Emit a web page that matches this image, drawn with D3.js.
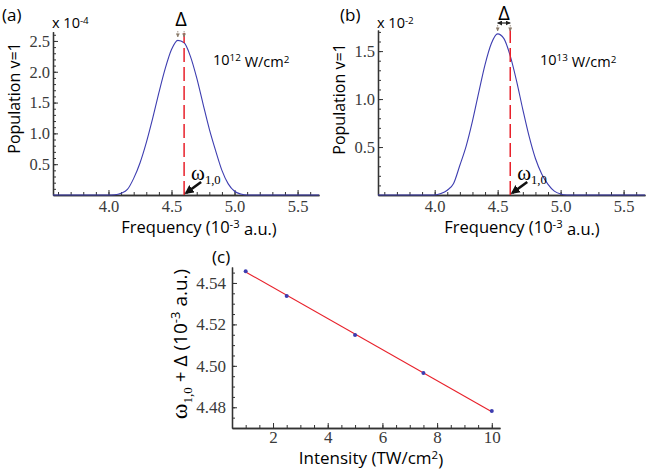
<!DOCTYPE html>
<html lang="en">
<head>
<meta charset="UTF-8">
<title>Population v=1 spectra and frequency shift</title>
<script src="https://d3js.org/d3.v7.min.js"></script>
<style>
  body { margin: 0; background: #fff; }
  svg { font-family: "Open Sans", sans-serif; }
  .domain, .tick line { stroke: #333; }
  .domain { stroke-width: 1.3px; }
  .tick text { font-family: "Liberation Serif", "DejaVu Serif", serif !important; fill: #3a3a3a; }
  .serif { font-family: "Liberation Serif", "DejaVu Serif", serif; }
</style>
</head>
<body>
<svg id="chart" width="647" height="474"></svg>
<script>
// panel (a): 10^12 W/cm2, population in units of 1e-4
var freqA = [3.56, 4.0, 4.05, 4.1, 4.15, 4.2, 4.25, 4.3, 4.35, 4.4, 4.45, 4.5, 4.55, 4.6, 4.65, 4.7, 4.75, 4.8, 4.85, 4.9, 4.95, 5.0, 5.05, 5.1, 5.67];
var popA  = [0, 0, 0.005, 0.03, 0.09, 0.27, 0.52, 0.85, 1.24, 1.66, 2.05, 2.36, 2.51, 2.47, 2.25, 1.90, 1.48, 1.07, 0.72, 0.40, 0.18, 0.06, 0.015, 0, 0];

// panel (b): 10^13 W/cm2, population in units of 1e-2
var freqB = [3.55, 4.0, 4.05, 4.1, 4.15, 4.2, 4.25, 4.3, 4.35, 4.4, 4.45, 4.5, 4.55, 4.6, 4.65, 4.7, 4.75, 4.8, 4.85, 4.9, 4.95, 5.0, 5.05, 5.67];
var popB  = [0, 0, 0.015, 0.05, 0.12, 0.31, 0.51, 0.77, 1.07, 1.36, 1.58, 1.68, 1.63, 1.45, 1.19, 0.89, 0.61, 0.38, 0.22, 0.11, 0.04, 0.01, 0, 0];

var omega10 = 4.6;   // omega_{1,0}, 10^-3 a.u.

// panel (c): shifted frequency vs intensity
var intensity = [1, 2.5, 5, 7.5, 10];
var shifted   = [4.5457, 4.5337, 4.5149, 4.4966, 4.4782];
var fitI = [1, 10];
var fitW = [4.5453, 4.4778];

var freqTicks = [4.0, 4.5, 5.0, 5.5];
var popTicksA = [0.5, 1.0, 1.5, 2.0, 2.5];
var popTicksB = [0.5, 1.0, 1.5];
var intTicks = [2, 4, 6, 8, 10];
var shiftTicks = [4.48, 4.50, 4.52, 4.54];

var blue = "#3d3db0", red = "#e8202a";
var svg = d3.select("#chart");

var defs = svg.append("defs");
defs.append("marker").attr("id", "head").attr("viewBox", "0 0 10 10")
    .attr("refX", 8).attr("refY", 5).attr("markerWidth", 9).attr("markerHeight", 9)
    .attr("markerUnits", "userSpaceOnUse").attr("orient", "auto")
    .append("path").attr("d", "M0,0L10,5L0,10z").attr("fill", "#111");
defs.append("marker").attr("id", "small").attr("viewBox", "0 0 10 10")
    .attr("refX", 9).attr("refY", 5).attr("markerWidth", 5).attr("markerHeight", 5)
    .attr("markerUnits", "userSpaceOnUse").attr("orient", "auto-start-reverse")
    .append("path").attr("d", "M0,0L10,5L0,10z").attr("fill", "#222");
defs.append("marker").attr("id", "tiny").attr("viewBox", "0 0 10 10")
    .attr("refX", 9).attr("refY", 5).attr("markerWidth", 4).attr("markerHeight", 4)
    .attr("markerUnits", "userSpaceOnUse").attr("orient", "auto")
    .append("path").attr("d", "M0,0L10,5L0,10z").attr("fill", "#8a7b6a");

function drawAxes(g, x, y, o) {
    var y0 = y.range()[0], x0 = x.range()[0];
    g.append("g").attr("transform", `translate(0,${y0})`)
        .call(d3.axisBottom(x).tickValues(o.xMinor).tickSize(-3).tickSizeOuter(0).tickFormat(""));
    g.append("g").attr("transform", `translate(0,${y0})`)
        .call(d3.axisBottom(x).tickValues(o.xMajor).tickSize(-5).tickSizeOuter(0)
            .tickPadding(o.xPad).tickFormat(o.xFmt))
        .attr("font-size", o.fs);
    g.append("g").attr("transform", `translate(${x0},0)`)
        .call(d3.axisLeft(y).tickValues(o.yMinor).tickSize(-3).tickSizeOuter(0).tickFormat(""));
    g.append("g").attr("transform", `translate(${x0},0)`)
        .call(d3.axisLeft(y).tickValues(o.yMajor).tickSize(-5).tickSizeOuter(0)
            .tickPadding(o.yPad).tickFormat(o.yFmt))
        .attr("font-size", o.fs);
    g.selectAll(".tick line").attr("stroke-width", 1);
}

function supText(sel, parts) {
    parts.forEach(function(p) {
        var t = sel.append("tspan").text(p[0]);
        if (p[1] === "sup") t.attr("font-size", "0.68em").attr("dy", "-0.45em");
        if (p[1] === "sub") t.attr("font-size", "0.6em").attr("dy", "0.35em");
        if (p[1] === "back") t.attr("dy", "0.45em");
    });
}

function spectrum(cfg) {
    var g = svg.append("g");
    var x = d3.scaleLinear().domain(cfg.xDom).range(cfg.xRange);
    var y = d3.scaleLinear().domain(cfg.yDom).range(cfg.yRange);
    drawAxes(g, x, y, {
        xMajor: freqTicks, xMinor: d3.range(36, 57).map(d => d / 10), xFmt: d3.format(".1f"), xPad: 5,
        yMajor: cfg.yTicks, yMinor: d3.range(1, cfg.yDom[1] * 10).map(d => d / 10), yFmt: d3.format(".1f"), yPad: 3,
        fs: 16.5
    });

    var line = d3.line().x(d => x(d[0])).y(d => y(d[1])).curve(d3.curveMonotoneX);
    g.append("path").datum(d3.zip(cfg.freq, cfg.pop))
        .attr("d", line).attr("fill", "none").attr("stroke", blue).attr("stroke-width", 1.1);

    var xo = x(omega10), xp = x(cfg.freq[d3.maxIndex(cfg.pop)]), base = y(0);
    g.append("line").attr("x1", xo).attr("x2", xo).attr("y1", base).attr("y2", cfg.dashTop)
        .attr("stroke", red).attr("stroke-width", 1.5).attr("stroke-dasharray", "14,5");

    // omega_{1,0} arrow
    g.append("line").attr("x1", xo + 17).attr("y1", base - 13).attr("x2", xo + 2).attr("y2", base - 2)
        .attr("stroke", "#111").attr("stroke-width", 2.6).attr("marker-end", "url(#head)");
    var w = g.append("text").attr("class", "serif").attr("x", xo + 7).attr("y", base - 15)
        .attr("font-size", 21);
    supText(w, [["ω", ""], ["1,0", "sub"]]);

    // Delta annotation
    g.append("text").attr("x", (xo + xp) / 2).attr("y", cfg.deltaY)
        .attr("text-anchor", "middle").attr("font-size", 20).text("Δ");
    if (cfg.bar) {
        g.append("line").attr("x1", xp).attr("x2", xo).attr("y1", cfg.deltaY + 3).attr("y2", cfg.deltaY + 3)
            .attr("stroke", "#222").attr("stroke-width", 1.2)
            .attr("marker-start", "url(#small)").attr("marker-end", "url(#small)");
    }
    [xp, xo].forEach(function(xx) {
        g.append("line").attr("x1", xx).attr("x2", xx).attr("y1", cfg.deltaY + 5).attr("y2", cfg.deltaY + 11)
            .attr("stroke", "#8a7b6a").attr("stroke-width", 0.8).attr("stroke-dasharray", "1.5,1")
            .attr("marker-end", "url(#tiny)");
    });

    // labels
    g.append("text").attr("x", cfg.tagX).attr("y", 21).attr("font-size", 17).text(cfg.tag);
    var sc = g.append("text").attr("x", cfg.xRange[0] - 1).attr("y", 28).attr("font-size", 14.5);
    supText(sc, [["x 10", ""], [cfg.exp, "sup"]]);
    var it = g.append("text").attr("x", cfg.intX).attr("y", 65).attr("font-size", 14.5);
    supText(it, [["10", ""], [cfg.intExp, "sup"], [" W/cm", "back"], ["2", "sup"]]);

    g.append("text").attr("transform", `translate(${cfg.yLabX},${cfg.yLabY}) rotate(-90)`)
        .attr("text-anchor", "middle").attr("font-size", 16).text("Population v=1");
    var xl = g.append("text").attr("x", cfg.xLabX).attr("y", 233)
        .attr("text-anchor", "middle").attr("font-size", 16.5);
    supText(xl, [["Frequency (10", ""], ["-3", "sup"], [" a.u.)", "back"]]);
}

spectrum({
    freq: freqA, pop: popA, xDom: [3.56, 5.67], xRange: [53, 319], yDom: [0, 2.65], yRange: [195, 31.7],
    yTicks: popTicksA, dashTop: 33, deltaY: 26, bar: false, tag: "(a)", tagX: 2, exp: "-4",
    intX: 213, intExp: "12", yLabX: 20, yLabY: 98, xLabX: 199
});
spectrum({
    freq: freqB, pop: popB, xDom: [3.55, 5.67], xRange: [378, 645], yDom: [0, 1.72], yRange: [195, 30],
    yTicks: popTicksB, dashTop: 27, deltaY: 20, bar: true, tag: "(b)", tagX: 340, exp: "-2",
    intX: 540, intExp: "13", yLabX: 345, yLabY: 99, xLabX: 522
});

// panel (c)
var gc = svg.append("g");
var xc = d3.scaleLinear().domain([0.5, 10.3]).range([232, 500]);
var yc = d3.scaleLinear().domain([4.47, 4.5477]).range([428, 267]);
drawAxes(gc, xc, yc, {
    xMajor: intTicks, xMinor: d3.range(2, 21).map(d => d / 2), xFmt: d3.format("d"), xPad: 3,
    yMajor: shiftTicks, yMinor: d3.range(895, 910).map(d => d / 200), yFmt: d3.format(".2f"), yPad: 6,
    fs: 17
});
gc.append("path").datum(d3.zip(fitI, fitW))
    .attr("d", d3.line().x(d => xc(d[0])).y(d => yc(d[1])))
    .attr("fill", "none").attr("stroke", red).attr("stroke-width", 1.1);
gc.selectAll("circle.pt").data(d3.zip(intensity, shifted)).join("circle")
    .attr("class", "pt").attr("cx", d => xc(d[0])).attr("cy", d => yc(d[1]))
    .attr("r", 2).attr("fill", blue);

gc.append("text").attr("x", 212).attr("y", 263).attr("font-size", 17).text("(c)");
var xlc = gc.append("text").attr("x", 371).attr("y", 464).attr("text-anchor", "middle").attr("font-size", 17);
supText(xlc, [["Intensity (TW/cm", ""], ["2", "sup"], [")", "back"]]);
var ylc = gc.append("text").attr("transform", "translate(187,344) rotate(-90)")
    .attr("text-anchor", "middle").attr("font-size", 19);
ylc.append("tspan").attr("class", "serif").attr("font-size", 24).text("ω");
ylc.append("tspan").attr("class", "serif").attr("font-size", 13).attr("dy", 5).text("1,0");
ylc.append("tspan").attr("dy", -5).text(" + Δ (10");
ylc.append("tspan").attr("font-size", 13).attr("dy", -7).text("-3");
ylc.append("tspan").attr("dy", 7).text(" a.u.)");
</script>
</body>
</html>
